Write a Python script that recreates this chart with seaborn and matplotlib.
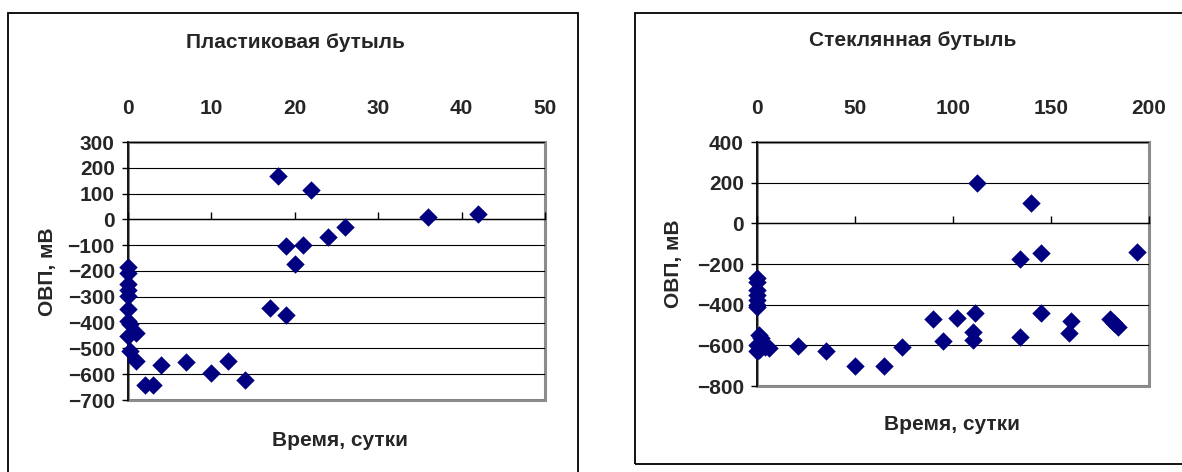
import numpy as np
import pandas as pd
import matplotlib
matplotlib.use("Agg")
import matplotlib.pyplot as plt
from matplotlib.patches import Rectangle
from matplotlib.ticker import MultipleLocator
import seaborn as sns

# Plastic bottle: time (days) vs ORP (mV)
plastic_days = [0, 0, 0, 0, 0, 0, 0, 0.2, 0, 1, 0.2, 0.9, 2, 3, 4, 7, 10, 12, 14,
                17, 18, 19, 19, 20, 21, 22, 24, 26, 36, 42]
plastic_orp = [-184, -207, -252, -275, -297, -349, -394, -407, -450, -439, -511, -550,
               -640, -640, -566, -552, -595, -548, -622,
               -343, 168, -105, -372, -171, -100, 113, -70, -30, 10, 20]

# Glass bottle: time (days) vs ORP (mV)
glass_days = [0, 0, 0, 0, 0, 0, 0, 1, 2, 0, 3, 4, 0, 1, 6, 21, 35, 50, 65, 74,
              90, 95, 102, 110, 110, 111, 112, 134, 134, 140, 145, 145,
              159, 160, 180, 182, 184, 194]
glass_orp = [-268, -290, -328, -350, -378, -400, -412, -550, -565, -600, -600, -610,
             -630, -625, -615, -604, -628, -703, -703, -608,
             -471, -578, -468, -535, -575, -443, 200, -175, -558, 100, -148, -443,
             -540, -478, -470, -490, -512, -140]

panels = [
    dict(title="Пластиковая бутыль", x=plastic_days, y=plastic_orp,
         xlim=(0, 50), xstep=10, ylim=(-700, 300), ystep=100),
    dict(title="Стеклянная бутыль", x=glass_days, y=glass_orp,
         xlim=(0, 200), xstep=50, ylim=(-800, 400), ystep=200),
]

sns.set_theme(style="white")
plt.rcParams["font.family"] = ["Liberation Sans", "DejaVu Sans"]
plt.rcParams["font.weight"] = "bold"

W, H = 1182, 472
fig = plt.figure(figsize=(W / 100, H / 100), dpi=100)
fig.patch.set_facecolor("white")


def fx(px):
    return px / W


def fy(py):
    return 1 - py / H


# outer chart frames (pixel boxes: left, top, right, bottom)
for (l, t, r, b) in [(8, 13, 578, 480), (635, 13, 1195, 464)]:
    fig.patches.append(Rectangle((fx(l), fy(b)), fx(r - l), (b - t) / H,
                                 transform=fig.transFigure, fill=False,
                                 edgecolor="black", linewidth=1.3, zorder=0))

# plot areas (pixels: left, top, right, bottom)
areas = [(128, 142, 545, 400), (757, 142, 1149, 386)]
title_pos = [(295, 42), (913, 40)]
xlabel_pos = [(340, 440), (952, 424)]
ylabel_pos = [(48, 272), (673, 264)]

navy = "#000080"
fs = 15

for p, (l, t, r, b), tp, xp, yp in zip(panels, areas, title_pos, xlabel_pos, ylabel_pos):
    ax = fig.add_axes([fx(l), fy(b), fx(r - l), (b - t) / H])
    df = pd.DataFrame({"days": p["x"], "orp": p["y"]})
    sns.scatterplot(data=df, x="days", y="orp", ax=ax, marker="D", s=88,
                    color=navy, edgecolor=navy, linewidth=0, clip_on=False, zorder=5)
    ax.set_xlim(*p["xlim"])
    ax.set_ylim(*p["ylim"])
    ax.xaxis.set_major_locator(MultipleLocator(p["xstep"]))
    ax.yaxis.set_major_locator(MultipleLocator(p["ystep"]))
    ax.set_xlabel("")
    ax.set_ylabel("")

    # plot area border in gray, value axis in black
    ax.patch.set_facecolor("white")
    ax.patch.set_edgecolor("#8c8c8c")
    ax.patch.set_linewidth(2.2)
    for side in ("top", "right"):
        ax.spines[side].set_visible(False)
    ax.spines["left"].set_color("black")
    ax.spines["left"].set_linewidth(1.2)
    ax.spines["bottom"].set_position(("data", 0))
    ax.spines["bottom"].set_color("black")
    ax.spines["bottom"].set_linewidth(1.0)

    ax.yaxis.grid(True, color="black", linewidth=0.8)
    ax.xaxis.grid(False)
    ax.set_axisbelow(True)

    ax.tick_params(axis="x", which="major", bottom=True, top=False,
                   labelbottom=False, labeltop=True, direction="in",
                   length=5, width=1, color="black", pad=17,
                   labelsize=fs)
    ax.tick_params(axis="y", which="major", left=True, direction="out",
                   length=4.5, width=1, color="black", pad=5, labelsize=fs)
    for lab in ax.get_xticklabels() + ax.get_yticklabels():
        lab.set_fontweight("bold")

    fig.text(fx(tp[0]), fy(tp[1]), p["title"], ha="center", va="center",
             fontsize=fs, fontweight="bold")
    fig.text(fx(xp[0]), fy(xp[1]), "Время, сутки", ha="center", va="center",
             fontsize=fs, fontweight="bold")
    fig.text(fx(yp[0]), fy(yp[1]), "ОВП, мВ", ha="center", va="center",
             rotation=90, fontsize=fs, fontweight="bold")

fig.savefig("out.png", dpi=100, facecolor="white")
